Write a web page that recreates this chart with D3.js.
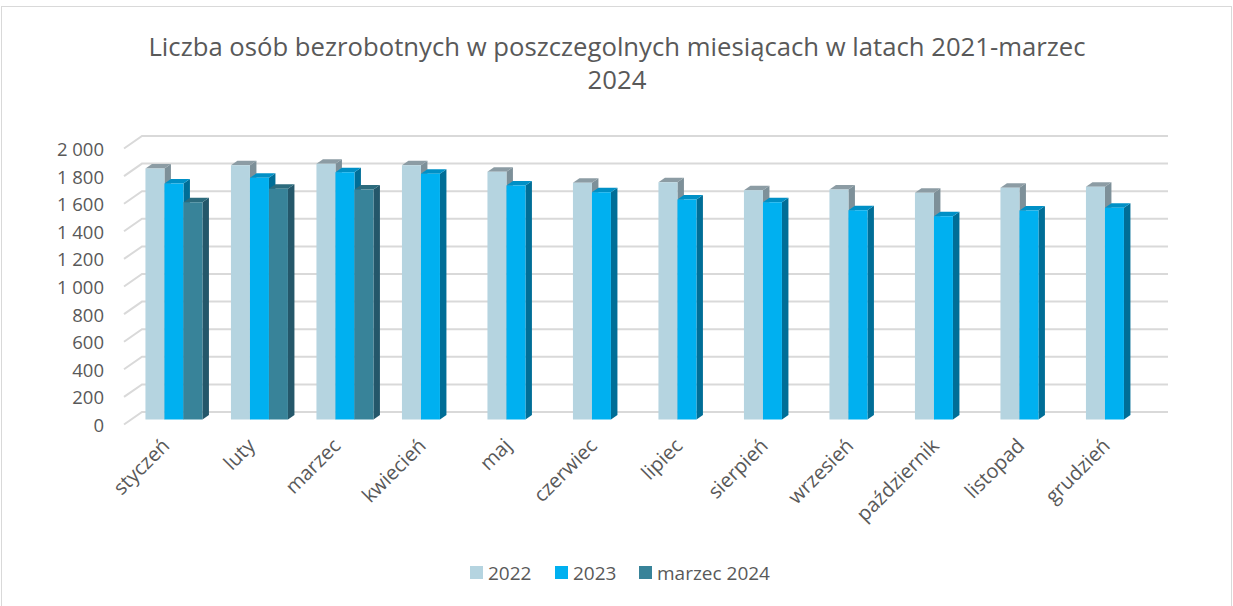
<!DOCTYPE html>
<html>
<head>
<meta charset="utf-8">
<script src="https://cdn.jsdelivr.net/npm/d3@7"></script>
<style>
  body { margin: 0; background: #fff; }
  text { font-family: "Open Sans", sans-serif; fill: #595959; }
</style>
</head>
<body>
<div id="chart"></div>
<script>
var months = ['styczeń','luty','marzec','kwiecień','maj','czerwiec','lipiec','sierpień','wrzesień','październik','listopad','grudzień'];
var seriesNames = ['2022','2023','marzec 2024'];
var values2022 = [1819,1843,1853,1843,1795,1715,1720,1662,1667,1643,1679,1686];
var values2023 = [1710,1751,1792,1780,1696,1647,1594,1575,1517,1473,1514,1534];
var values2024 = [1575,1672,1667,null,null,null,null,null,null,null,null,null];
var yTicks = [0,200,400,600,800,1000,1200,1400,1600,1800,2000];

(function(){
  var width = 1233, height = 606;
  var colors = [
    {front:'#b5d4e0', top:'#8c9ca4', side:'#7d9099'},
    {front:'#00b0f0', top:'#0090c6', side:'#006e97'},
    {front:'#388399', top:'#2c6b7d', side:'#24576a'}
  ];
  var allValues = [values2022, values2023, values2024];

  var svg = d3.select('#chart').append('svg')
    .attr('width', width)
    .attr('height', height);

  svg.append('rect')
    .attr('x', 1.5).attr('y', 6.5)
    .attr('width', 1230).attr('height', 620)
    .attr('fill', '#fff')
    .attr('stroke', '#d9d9d9')

  // front plane scales, depth goes back by (dx, dy)
  var depth = [18, -12.5];
  var x0 = d3.scaleBand().domain(months).range([124, 1150]).paddingInner(1/3).paddingOuter(1/6);
  var x1 = d3.scaleBand().domain([0,1,2]).range([0, x0.bandwidth()]);
  var y = d3.scaleLinear().domain([0, 2000]).range([424.5, 148.5]);

  function proj(x, yy, d){ return [x + d*depth[0], yy + d*depth[1]]; }
  function pts(arr){ return arr.map(function(p){ return p.join(','); }).join(' '); }

  var grid = svg.append('g').attr('stroke', '#d9d9d9').attr('stroke-width', 2);
  yTicks.forEach(function(t){
    grid.append('polyline')
      .attr('points', pts([proj(124, y(t), 0), proj(124, y(t), 1), proj(1150, y(t), 1)]))
      .attr('fill', 'none');
  });

  var fmt = d3.formatLocale({decimal:',', thousands:' ', grouping:[3], currency:['','']}).format(',');
  svg.append('g').selectAll('text')
    .data(yTicks)
    .enter().append('text')
    .attr('x', 104)
    .attr('y', function(d){ return y(d) + 1; })
    .attr('dy', '0.35em')
    .attr('text-anchor', 'end')
    .style('font-size', '18.5px')
    .text(function(d){ return fmt(d); });

  // bars, drawn left to right so each bar hides the side of the previous one
  var df = 0.4, db = 0.76;
  var bars = svg.append('g');
  months.forEach(function(m, i){
    allValues.forEach(function(vals, s){
      var v = vals[i];
      if (v == null) return;
      var xl = x0(m) + x1(s), xr = xl + x1.bandwidth();
      var yt = y(v), yb = y(0);
      bars.append('polygon')
        .attr('points', pts([proj(xr,yt,df), proj(xr,yb,df), proj(xr,yb,db), proj(xr,yt,db)]))
        .attr('fill', colors[s].side);
      bars.append('polygon')
        .attr('points', pts([proj(xl,yt,df), proj(xr,yt,df), proj(xr,yt,db), proj(xl,yt,db)]))
        .attr('fill', colors[s].top);
      bars.append('polygon')
        .attr('points', pts([proj(xl,yt,df), proj(xr,yt,df), proj(xr,yb,df), proj(xl,yb,df)]))
        .attr('fill', colors[s].front);
    });
  });

  // category labels
  svg.append('g').selectAll('text')
    .data(months)
    .enter().append('text')
    .attr('text-anchor', 'end')
    .attr('transform', function(d){
      var cx = x0(d) + x0.bandwidth()/2 + 4;
      return 'translate(' + cx + ',447) rotate(-45)';
    })
    .style('font-size', '20px')
    .text(function(d){ return d; });

  // title
  var title = svg.append('text')
    .attr('text-anchor', 'middle')
    .style('font-size', '25.7px');
  title.append('tspan').attr('x', 617).attr('y', 56)
    .text('Liczba osób bezrobotnych w poszczegolnych miesiącach w latach 2021-marzec');
  title.append('tspan').attr('x', 617).attr('y', 89).text('2024');

  // legend
  var legX = [470, 555, 639];
  var leg = svg.append('g').selectAll('g')
    .data(seriesNames)
    .enter().append('g')
    .attr('transform', function(d, i){ return 'translate(' + legX[i] + ',566)'; });
  leg.append('rect')
    .attr('width', 13).attr('height', 13)
    .attr('fill', function(d, i){ return colors[i].front; });
  leg.append('text')
    .attr('x', 18).attr('y', 7).attr('dy', '0.35em')
    .style('font-size', '19px')
    .text(function(d){ return d; });
})()
</script>
</body>
</html>
